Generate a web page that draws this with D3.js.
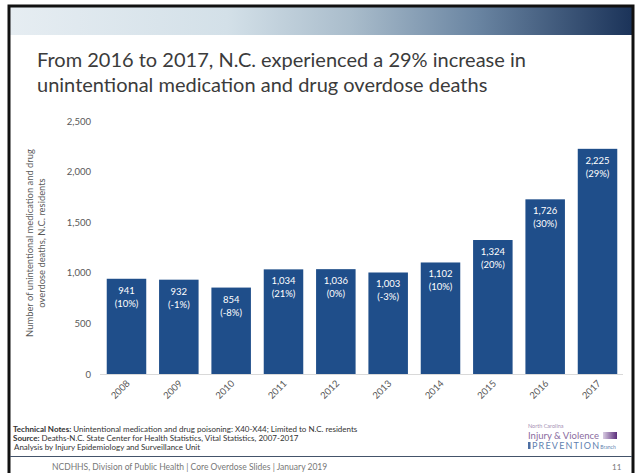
<!DOCTYPE html>
<html>
<head>
<meta charset="utf-8">
<script src="https://cdn.jsdelivr.net/npm/d3@7"></script>
<style>
  html, body { margin: 0; padding: 0; background: #ffffff; }
  svg { display: block; }
  text { font-family: Lato, "Open Sans", sans-serif; }
</style>
</head>
<body>
<script>
// Unintentional medication and drug overdose deaths, N.C. residents
const years = ["2008", "2009", "2010", "2011", "2012", "2013", "2014", "2015", "2016", "2017"];
const deaths = [941, 932, 854, 1034, 1036, 1003, 1102, 1324, 1726, 2225];
const changeLabels = ["(10%)", "(-1%)", "(-8%)", "(21%)", "(0%)", "(-3%)", "(10%)", "(20%)", "(30%)", "(29%)"];
const yTicks = [0, 500, 1000, 1500, 2000, 2500];
const titleLines = [
  "From 2016 to 2017, N.C. experienced a 29% increase in",
  "unintentional medication and drug overdose deaths"
];
const yTitleLines = [
  "Number of unintentional medication and drug",
  "overdose deaths, N.C. residents"
];

const W = 640, H = 473;
const barColor = "#1f4e8a";
const axisText = "#595959";
const fontFamily = "Lato, 'Open Sans', sans-serif";

const svg = d3.select("body").append("svg").attr("width", W).attr("height", H);
const defs = svg.append("defs");

// Header banner gradient
const bannerGrad = defs.append("linearGradient").attr("id", "banner").attr("x1", "0").attr("x2", "1");
[["0%", "#e6edf2"], ["35%", "#d3e0e8"], ["55%", "#a9bccb"], ["75%", "#6a85a2"], ["100%", "#1b3359"]]
  .forEach(([o, c]) => bannerGrad.append("stop").attr("offset", o).attr("stop-color", c));

const logoGrad = defs.append("linearGradient").attr("id", "logoBar").attr("x1", "0").attr("x2", "1");
[["0%", "#d9cce2"], ["100%", "#5c2f7c"]]
  .forEach(([o, c]) => logoGrad.append("stop").attr("offset", o).attr("stop-color", c));

// Slide frame
svg.append("rect").attr("x", 0).attr("y", 0).attr("width", W).attr("height", H).attr("fill", "#ffffff");
svg.append("rect").attr("x", 10).attr("y", 7).attr("width", 622).attr("height", 28).attr("fill", "url(#banner)");
svg.append("rect").attr("x", 9).attr("y", 6).attr("width", 624).attr("height", H + 10)
  .attr("fill", "none").attr("stroke", "#111").attr("stroke-width", 3);

// Title
svg.append("g").selectAll("text").data(titleLines).join("text")
  .attr("x", 37).attr("y", (d, i) => 67 + i * 25)
  .attr("fill", "#3b3b3b").attr("font-size", 20)
  .text(d => d);

// Scales
const x = d3.scaleBand().domain(years).range([101.5, 622.5]).paddingInner(0.245).paddingOuter(0.1);
const y = d3.scaleLinear().domain([0, 2500]).range([374, 121]);

// Y axis labels
const yAxis = svg.append("g").attr("transform", "translate(91,0)")
  .call(d3.axisLeft(y).tickValues(yTicks).tickFormat(d3.format(",")).tickSize(0).tickPadding(0));
yAxis.select(".domain").remove();
yAxis.selectAll("text").attr("fill", axisText).attr("font-size", 9.5)
  .attr("font-family", fontFamily);

// Baseline
svg.append("line").attr("x1", 100).attr("x2", 623).attr("y1", y(0) + 0.5).attr("y2", y(0) + 0.5)
  .attr("stroke", "#d9d9d9").attr("stroke-width", 1);

// Bars
const bars = svg.append("g").selectAll("g").data(years).join("g");
bars.append("rect")
  .attr("x", d => x(d)).attr("width", x.bandwidth())
  .attr("y", (d, i) => y(deaths[i])).attr("height", (d, i) => y(0) - y(deaths[i]))
  .attr("fill", barColor);
bars.append("text")
  .attr("x", d => x(d) + x.bandwidth() / 2).attr("y", (d, i) => y(deaths[i]) + 15)
  .attr("text-anchor", "middle").attr("fill", "#ffffff").attr("font-size", 9.5)
  .text((d, i) => d3.format(",")(deaths[i]));
bars.append("text")
  .attr("x", d => x(d) + x.bandwidth() / 2).attr("y", (d, i) => y(deaths[i]) + 28)
  .attr("text-anchor", "middle").attr("fill", "#ffffff").attr("font-size", 9.5)
  .text((d, i) => changeLabels[i]);

// X axis labels (rotated)
const xAxis = svg.append("g").attr("transform", `translate(0,${y(0)})`)
  .call(d3.axisBottom(x).tickSize(0).tickPadding(0));
xAxis.select(".domain").remove();
xAxis.selectAll("text")
  .attr("fill", axisText).attr("font-size", 9.5)
  .attr("font-family", fontFamily)
  .attr("text-anchor", "end").attr("dy", null).attr("y", 0).attr("x", 0)
  .attr("transform", "translate(4,10) rotate(-45)");

// Y axis title
svg.append("g").attr("transform", "translate(0,243)")
  .selectAll("text").data(yTitleLines).join("text")
  .attr("transform", (d, i) => `translate(${33 + i * 12},0) rotate(-90)`)
  .attr("text-anchor", "middle").attr("fill", axisText).attr("font-size", 9.4)
  .text(d => d);

// Technical notes
const notes = svg.append("g").attr("font-size", 8).attr("fill", "#333");
const n1 = notes.append("text").attr("x", 13).attr("y", 432);
n1.append("tspan").attr("font-weight", "bold").text("Technical Notes: ");
n1.append("tspan").text("Unintentional medication and drug poisoning: X40-X44; Limited to N.C. residents");
const n2 = notes.append("text").attr("x", 13).attr("y", 441);
n2.append("tspan").attr("font-weight", "bold").text("Source: ");
n2.append("tspan").text("Deaths-N.C. State Center for Health Statistics, Vital Statistics, 2007-2017");
notes.append("text").attr("x", 14).attr("y", 450).text("Analysis by Injury Epidemiology and Surveillance Unit");

// Branch logo
const logo = svg.append("g");
logo.append("text").attr("x", 528).attr("y", 428).attr("font-size", 5.5).attr("fill", "#a58fb3").text("North Carolina");
logo.append("text").attr("x", 528).attr("y", 439).attr("font-size", 9.5).attr("fill", "#8a6b9e").text("Injury & Violence");
logo.append("rect").attr("x", 603).attr("y", 432).attr("width", 14).attr("height", 7).attr("fill", "url(#logoBar)");
logo.append("rect").attr("x", 528).attr("y", 442).attr("width", 2.5).attr("height", 7).attr("fill", "#4d6fa3");
const prev = logo.append("text").attr("x", 532).attr("y", 449).attr("fill", "#5f7fb0");
prev.append("tspan").attr("font-size", 9).attr("letter-spacing", 1.2).text("PREVENTION");
prev.append("tspan").attr("font-size", 5).text("Branch");

// Footer
svg.append("line").attr("x1", 10).attr("x2", 632).attr("y1", 456.5).attr("y2", 456.5)
  .attr("stroke", "#44546a").attr("stroke-width", 1.2);
svg.append("text").attr("x", 52).attr("y", 470).attr("font-size", 8.5).attr("fill", "#777")
  .text("NCDHHS, Division of Public Health | Core Overdose Slides | January 2019");
svg.append("text").attr("x", 612).attr("y", 470).attr("font-size", 8).attr("fill", "#777").text("11");
</script>
</body>
</html>
